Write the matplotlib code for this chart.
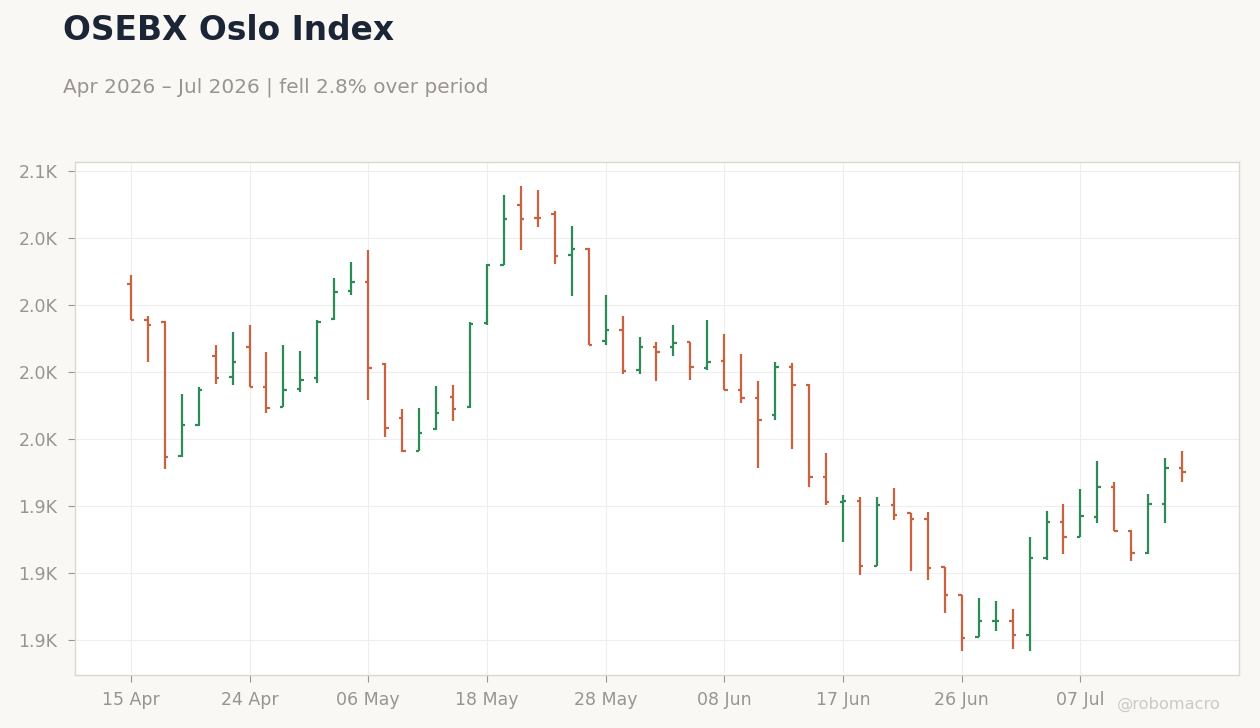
import matplotlib
matplotlib.use("Agg")
import matplotlib.pyplot as plt
from matplotlib.ticker import FixedLocator, FuncFormatter
import pandas as pd
from decimal import Decimal, ROUND_HALF_UP

# ---- data ----
holidays = ["2026-05-01", "2026-05-14", "2026-05-25"]
dates = [d for d in pd.bdate_range("2026-04-15", "2026-07-15") if d.strftime("%Y-%m-%d") not in holidays]

opens = [2008.1, 1994.6, 1993.9, 1943.9, 1955.3, 1981.2, 1973.4, 1984.5, 1969.6, 1962.0,
         1968.9, 1973.0, 1994.9, 2005.4, 2008.8, 1978.2, 1958.1, 1945.7, 1954.0, 1965.9,
         1962.0, 1993.4, 2015.0, 2037.5, 2032.7, 2034.2, 2018.9, 2021.1, 1986.8, 1990.9,
         1976.0, 1984.5, 1984.5, 1986.3, 1976.5, 1979.2, 1968.4, 1965.4, 1959.1, 1977.0,
         1970.3, 1935.9, 1926.6, 1927.0, 1902.7, 1925.6, 1922.3, 1920.4, 1902.2, 1891.7,
         1876.2, 1882.0, 1882.3, 1877.1, 1905.5, 1919.3, 1913.7, 1921.1, 1932.3, 1915.9,
         1907.7, 1926.0, 1939.4]
highs = [2011.3, 1996.1, 1994.1, 1966.9, 1969.5, 1985.2, 1990.0, 1992.6, 1982.6, 1985.2,
         1982.9, 1994.5, 2010.2, 2016.1, 2020.6, 1978.3, 1961.3, 1961.7, 1969.9, 1970.2,
         1993.6, 2015.6, 2041.1, 2044.5, 2043.0, 2035.2, 2029.6, 2021.4, 2003.8, 1996.0,
         1988.2, 1986.3, 1992.6, 1986.3, 1994.4, 1989.2, 1981.7, 1971.6, 1978.7, 1978.4,
         1970.5, 1944.8, 1929.1, 1928.4, 1928.4, 1931.8, 1922.4, 1922.9, 1902.5, 1891.8,
         1890.8, 1889.7, 1886.7, 1913.6, 1923.3, 1925.9, 1931.5, 1941.9, 1934.1, 1916.2,
         1929.6, 1943.0, 1945.6]
lows = [1994.5, 1979.0, 1939.0, 1943.3, 1955.1, 1970.7, 1970.4, 1969.5, 1959.9, 1962.0,
        1967.8, 1971.1, 1994.6, 2004.0, 1964.8, 1951.0, 1945.1, 1945.5, 1953.3, 1956.9,
        1961.7, 1992.8, 2015.0, 2020.7, 2029.3, 2015.5, 2003.6, 1985.2, 1985.3, 1974.5,
        1974.5, 1971.9, 1981.2, 1972.0, 1975.7, 1968.3, 1963.6, 1939.3, 1957.2, 1946.4,
        1932.2, 1925.5, 1911.7, 1899.3, 1902.6, 1919.7, 1901.0, 1897.3, 1885.3, 1870.8,
        1876.1, 1878.6, 1871.9, 1870.8, 1905.1, 1907.0, 1913.4, 1918.9, 1915.8, 1904.4,
        1907.0, 1918.9, 1934.2]
closes = [1994.5, 1992.8, 1943.5, 1955.3, 1968.5, 1973.0, 1979.0, 1969.5, 1961.8, 1968.5,
          1972.2, 1993.8, 2005.1, 2008.8, 1976.7, 1954.3, 1945.6, 1952.5, 1959.9, 1961.2,
          1993.1, 2015.1, 2032.3, 2032.3, 2032.5, 2018.5, 2021.1, 1985.2, 1990.9, 1975.6,
          1984.5, 1982.7, 1986.0, 1977.0, 1978.9, 1968.3, 1965.4, 1957.2, 1977.0, 1970.3,
          1935.9, 1926.5, 1927.0, 1902.7, 1925.5, 1921.9, 1920.4, 1902.1, 1891.7, 1875.9,
          1882.0, 1882.3, 1877.1, 1905.5, 1919.3, 1913.7, 1921.5, 1932.0, 1915.8, 1907.7,
          1926.0, 1939.4, 1937.9]

y_ticks = [1875, 1900, 1925, 1950, 1975, 2000, 2025, 2050]
tick_every = 7

# ---- style ----
UP = "#2e8a56"
DOWN = "#c9623f"
BG = "#f9f8f5"
TXT = "#99948f"

fig = plt.figure(figsize=(12.6, 7.28), dpi=100, facecolor=BG)
ax = fig.add_axes([0.0598, 0.0724, 0.9238, 0.7047])
ax.set_facecolor("white")

n = len(closes)
xs = list(range(n))
tw = 0.2
for i in xs:
    c = UP if closes[i] >= opens[i] else DOWN
    ax.vlines(i, lows[i], highs[i], color=c, lw=1.6, zorder=3)
    ax.hlines(opens[i], i - tw, i, color=c, lw=1.6, zorder=3)
    ax.hlines(closes[i], i, i + tw, color=c, lw=1.6, zorder=3)

ax.set_xlim(-3.27, 65.37)
ax.set_ylim(1861.9, 2053.4)

xt = list(range(0, n, tick_every))
ax.xaxis.set_major_locator(FixedLocator(xt))
ax.set_xticklabels([dates[i].strftime("%d %b") for i in xt])
ax.yaxis.set_major_locator(FixedLocator(y_ticks))


def kfmt(v, pos):
    d = (Decimal(int(round(v))) / Decimal(1000)).quantize(Decimal("0.1"), rounding=ROUND_HALF_UP)
    return f"{d}K"


ax.yaxis.set_major_formatter(FuncFormatter(kfmt))

ax.grid(True, color="#eeeeee", lw=0.8, zorder=0)
ax.set_axisbelow(True)
for s in ax.spines.values():
    s.set_color("#ddd8cf")
    s.set_linewidth(1)
ax.tick_params(axis="both", colors="#9a9591", labelcolor=TXT, labelsize=12.5, length=5, width=0.8)
ax.tick_params(axis="y", pad=8)
ax.tick_params(axis="x", pad=6)

change = (closes[-1] / closes[0] - 1) * 100
verb = "rose" if change >= 0 else "fell"
fig.text(0.05, 0.945, "OSEBX Oslo Index", fontsize=23.7, fontweight="bold", color="#1b2535", va="baseline")
fig.text(0.05, 0.8736,
         f"{dates[0].strftime('%b %Y')} – {dates[-1].strftime('%b %Y')} | {verb} {abs(change):.1f}% over period",
         fontsize=14.4, color=TXT, va="baseline")
fig.text(0.969, 0.026, "@robomacro", fontsize=11.7, color="#cdc9c4", ha="right", va="baseline")

fig.savefig("out.png", dpi=100, facecolor=BG)
